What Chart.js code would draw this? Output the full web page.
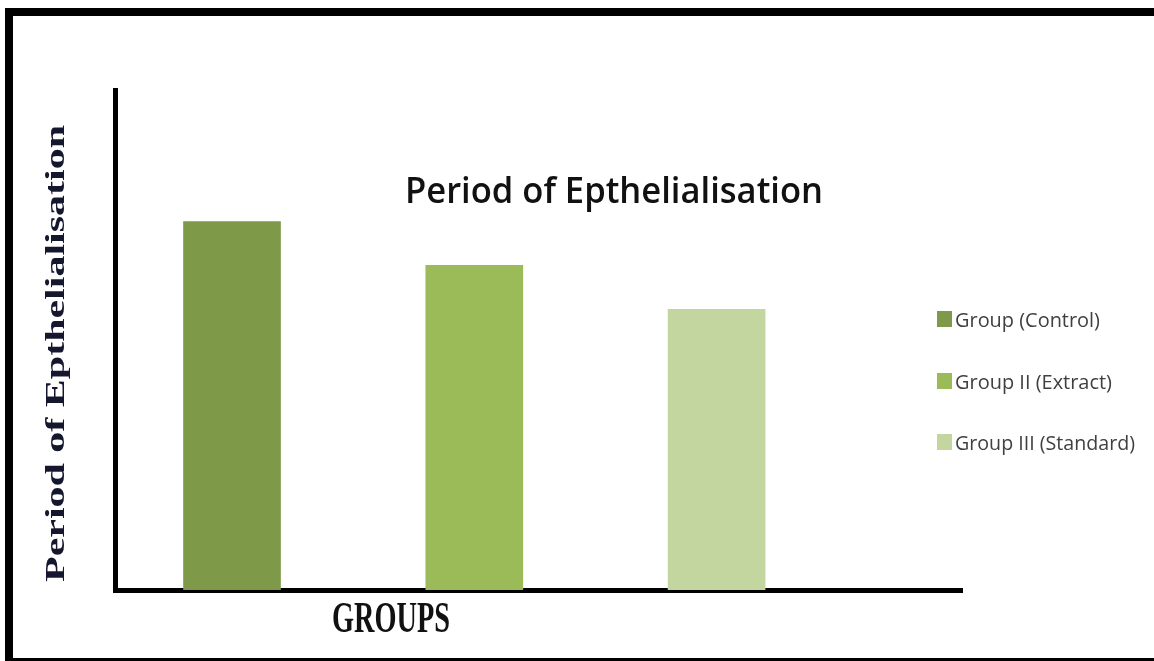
<!DOCTYPE html>
<html>
<head>
<meta charset="utf-8">
<script src="https://cdn.jsdelivr.net/npm/chart.js@4/dist/chart.umd.min.js"></script>
<style>
  html, body { margin: 0; padding: 0; background: #fff; }
  #frame {
    position: absolute; left: 5px; top: 8px; width: 1149px; height: 642px;
    border-left: 8px solid #000; border-top: 8px solid #000; border-bottom: 8px solid #000;
  }
  #graficaEpitelio { position: absolute; left: 0; top: 0; }
</style>
</head>
<body>
<div id="frame"></div>
<canvas id="graficaEpitelio" width="1154" height="661"></canvas>
<script>
const grupos = ['Group (Control)', 'Group II (Extract)', 'Group III (Standard)'];
const dias = [21, 18.5, 16];
const colores = ['#7E9A48', '#9BBB59', '#C4D6A0'];
const tituloTexto = 'Period of Epthelialisation';
const ejeY = 'Period of Epthelialisation';
const ejeX = 'GROUPS';

// draws a string squeezed/stretched to a given width
function textoAjustado(ctx, txt, x, y, ancho) {
  const w = ctx.measureText(txt).width;
  ctx.save();
  ctx.translate(x, y);
  ctx.scale(ancho / w, 1);
  ctx.fillText(txt, 0, 0);
  ctx.restore();
}

const textos = {
  id: 'textos',
  afterDraw(chart) {
    const ctx = chart.ctx;
    ctx.save();
    ctx.textBaseline = 'alphabetic';
    ctx.textAlign = 'left';

    // titulo
    ctx.fillStyle = '#111';
    ctx.font = '600 36px "Open Sans", "Liberation Sans", sans-serif';
    textoAjustado(ctx, tituloTexto, 405, 203, 418);

    // eje Y
    ctx.save();
    ctx.translate(64, 582);
    ctx.rotate(-Math.PI / 2);
    ctx.fillStyle = '#15172e';
    ctx.font = 'bold 28px "Liberation Serif", "DejaVu Serif", serif';
    textoAjustado(ctx, ejeY, 0, 0, 457);
    ctx.restore();

    // eje X
    ctx.fillStyle = '#111';
    ctx.font = 'bold 44px "Liberation Serif", "DejaVu Serif", serif';
    textoAjustado(ctx, ejeX, 332, 632, 118);

    // leyenda
    const anchos = [145, 157, 180];
    const bases = [327, 389, 450];
    ctx.font = '20px "Open Sans", "Liberation Sans", sans-serif';
    grupos.forEach((g, i) => {
      ctx.fillStyle = colores[i];
      ctx.fillRect(937, bases[i] - 16, 15, 16);
      ctx.fillStyle = '#404040';
      textoAjustado(ctx, g, 955, bases[i], anchos[i]);
    });
    ctx.restore();
  }
};

const ctx = document.getElementById('graficaEpitelio').getContext('2d');
new Chart(ctx, {
  type: 'bar',
  data: {
    datasets: [{
      label: tituloTexto,
      data: grupos.map((g, i) => ({ x: i, y: dias[i] })),
      backgroundColor: colores,
      barThickness: 97
    }]
  },
  options: {
    responsive: false,
    animation: false,
    layout: { padding: { left: 107, right: 192, top: 90, bottom: 63 } },
    plugins: {
      legend: { display: false },
      title: { display: false },
      tooltip: { enabled: false }
    },
    scales: {
      x: {
        type: 'linear',
        min: -0.483,
        max: 3.013,
        offset: false,
        ticks: { display: false, stepSize: 1, includeBounds: false },
        grid: { display: false },
        border: { display: true, color: '#000', width: 5 }
      },
      y: {
        min: 0,
        max: 28.5,
        ticks: { display: false },
        grid: { display: false },
        border: { display: true, color: '#000', width: 5 }
      }
    }
  },
  plugins: [textos]
});
</script>
</body>
</html>
